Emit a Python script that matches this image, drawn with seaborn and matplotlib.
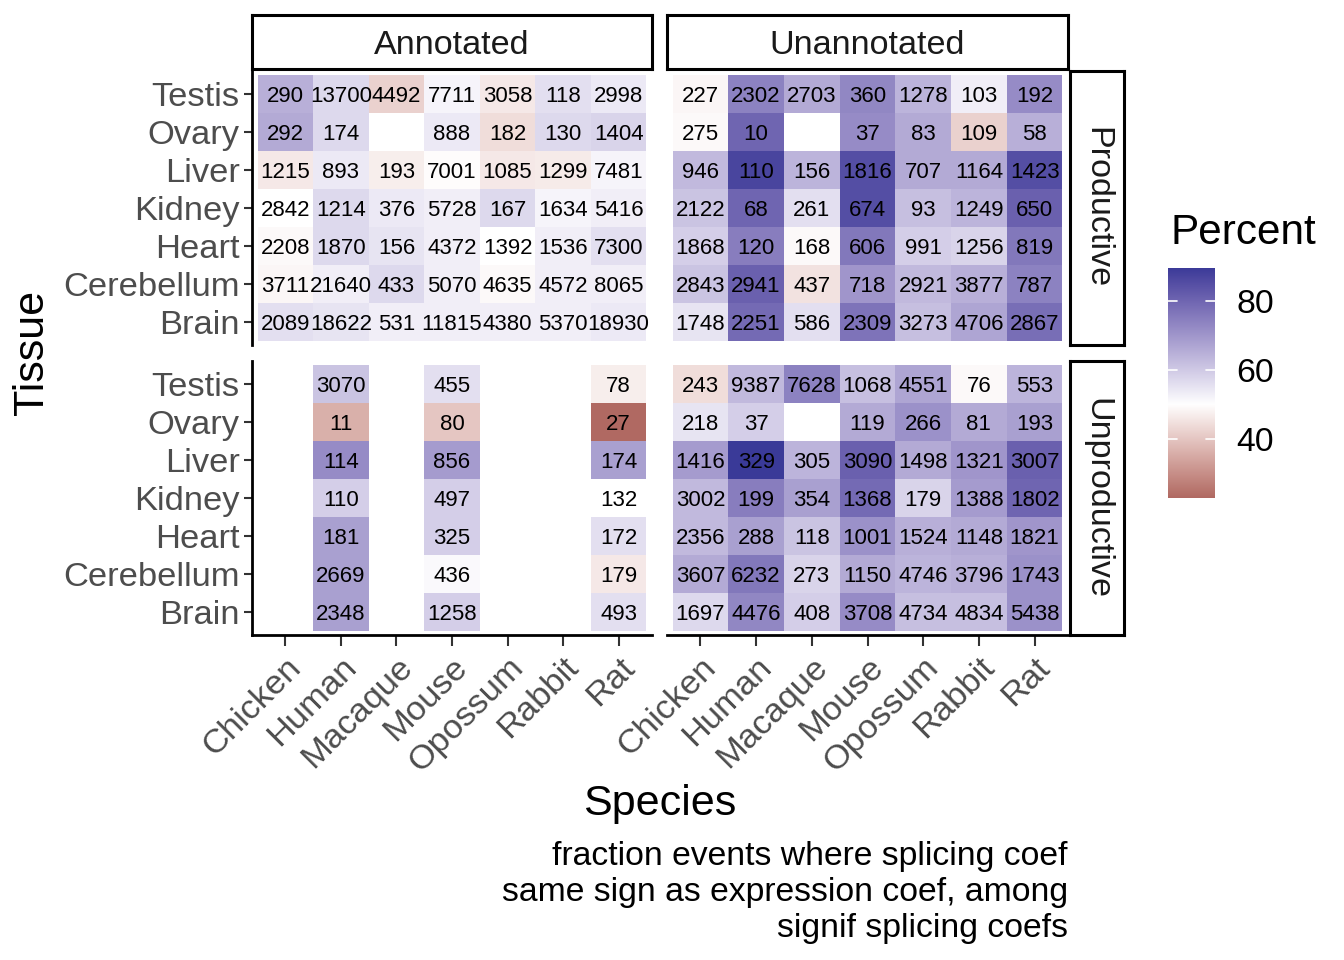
import numpy as np
import pandas as pd
import matplotlib
matplotlib.use("Agg")
import matplotlib.pyplot as plt
from matplotlib.colors import ListedColormap
import seaborn as sns

# ---------------- data ----------------
species = ["Chicken", "Human", "Macaque", "Mouse", "Opossum", "Rabbit", "Rat"]
tissues = ["Testis", "Ovary", "Liver", "Kidney", "Heart", "Cerebellum", "Brain"]
nan = np.nan

ann_prod_pct = [
    [65, 57, 42, 52, 46, 56, 54],
    [66, 57, nan, 54, 44, 57, 58],
    [46, 54, 47, 49.5, 46, 46.5, 52],
    [50, 57, 54, 53, 57, 52, 53],
    [49, 57, 55, 53, 50, 53, 56],
    [48.5, 53, 57, 53, 49, 53, 53],
    [56, 55, 53, 53, 53, 53, 54],
]
ann_prod_n = [
    [290, 13700, 4492, 7711, 3058, 118, 2998],
    [292, 174, nan, 888, 182, 130, 1404],
    [1215, 893, 193, 7001, 1085, 1299, 7481],
    [2842, 1214, 376, 5728, 167, 1634, 5416],
    [2208, 1870, 156, 4372, 1392, 1536, 7300],
    [3711, 21640, 433, 5070, 4635, 4572, 8065],
    [2089, 18622, 531, 11815, 4380, 5370, 18930],
]
unann_prod_pct = [
    [48.5, 74, 66, 73, 64, 53, 72],
    [49, 80, nan, 72, 66, 42, 65],
    [63, 87, 64, 85, 66, 66, 85],
    [61, 80, 56, 85, 62, 64, 81],
    [59, 75, 49, 76, 59, 58, 76],
    [61, 81, 45, 70, 63, 65, 74],
    [55, 79, 56, 77, 62, 67, 78],
]
unann_prod_n = [
    [227, 2302, 2703, 360, 1278, 103, 192],
    [275, 10, nan, 37, 83, 109, 58],
    [946, 110, 156, 1816, 707, 1164, 1423],
    [2122, 68, 261, 674, 93, 1249, 650],
    [1868, 120, 168, 606, 991, 1256, 819],
    [2843, 2941, 437, 718, 2921, 3877, 787],
    [1748, 2251, 586, 2309, 3273, 4706, 2867],
]
ann_unprod_pct = [
    [nan, 61, nan, 56, nan, nan, 47],
    [nan, 36, nan, 40, nan, nan, 23],
    [nan, 72, nan, 69, nan, nan, 68],
    [nan, 59, nan, 59, nan, nan, 50],
    [nan, 68, nan, 59, nan, nan, 56],
    [nan, 68, nan, 51, nan, nan, 46],
    [nan, 68, nan, 59, nan, nan, 56],
]
ann_unprod_n = [
    [nan, 3070, nan, 455, nan, nan, 78],
    [nan, 11, nan, 80, nan, nan, 27],
    [nan, 114, nan, 856, nan, nan, 174],
    [nan, 110, nan, 497, nan, nan, 132],
    [nan, 181, nan, 325, nan, nan, 172],
    [nan, 2669, nan, 436, nan, nan, 179],
    [nan, 2348, nan, 1258, nan, nan, 493],
]
unann_unprod_pct = [
    [44, 63, 74, 62, 67, 49, 64],
    [55, 59, nan, 66, 71, 66, 68],
    [69, 89.6, 64, 81, 66, 70, 81],
    [63, 75, 68, 79, 58, 69, 80],
    [63, 68, 61, 71, 65, 66, 70],
    [66, 76, 58, 66, 64, 65, 71],
    [57, 73, 59, 72, 62, 62, 71],
]
unann_unprod_n = [
    [243, 9387, 7628, 1068, 4551, 76, 553],
    [218, 37, nan, 119, 266, 81, 193],
    [1416, 329, 305, 3090, 1498, 1321, 3007],
    [3002, 199, 354, 1368, 179, 1388, 1802],
    [2356, 288, 118, 1001, 1524, 1148, 1821],
    [3607, 6232, 273, 1150, 4746, 3796, 1743],
    [1697, 4476, 408, 3708, 4734, 4834, 5438],
]
col_facets = ["Annotated", "Unannotated"]
row_facets = ["Productive", "Unproductive"]
legend_breaks = [40, 60, 80]
caption_lines = ["fraction events where splicing coef",
                 "same sign as expression coef, among",
                 "signif splicing coefs"]

# ---------------- colour scale (ggplot gradient2, Lab interpolation) ----------------
_M = np.array([[0.4124, 0.3576, 0.1805], [0.2126, 0.7152, 0.0722], [0.0193, 0.1192, 0.9505]])
_WP = np.array([0.95047, 1.0, 1.08883])

def srgb_to_lab(rgb):
    c = np.asarray(rgb, float)
    lin = np.where(c <= 0.04045, c / 12.92, ((c + 0.055) / 1.055) ** 2.4)
    xyz = lin @ _M.T / _WP
    d = 6 / 29
    f = np.where(xyz > d ** 3, np.cbrt(xyz), xyz / (3 * d * d) + 4 / 29)
    return np.stack([116 * f[..., 1] - 16, 500 * (f[..., 0] - f[..., 1]), 200 * (f[..., 1] - f[..., 2])], -1)

def lab_to_srgb(lab):
    lab = np.asarray(lab, float)
    fy = (lab[..., 0] + 16) / 116
    fx = fy + lab[..., 1] / 500
    fz = fy - lab[..., 2] / 200
    d = 6 / 29
    finv = lambda t: np.where(t > d, t ** 3, 3 * d * d * (t - 4 / 29))
    xyz = np.stack([finv(fx), finv(fy), finv(fz)], -1) * _WP
    lin = np.clip(xyz @ np.linalg.inv(_M).T, 0, 1)
    c = np.where(lin <= 0.0031308, 12.92 * lin, 1.055 * lin ** (1 / 2.4) - 0.055)
    return np.clip(c, 0, 1)

def hex2rgb(h):
    return np.array([int(h[i:i + 2], 16) / 255 for i in (1, 3, 5)])

low_lab = srgb_to_lab(hex2rgb("#832424"))
mid_lab = srgb_to_lab(np.array([1.0, 1.0, 1.0]))
high_lab = srgb_to_lab(hex2rgb("#3A3A98"))
labs = []
for t in np.linspace(0, 1, 512):
    if t < 0.5:
        f = t / 0.5
        labs.append(low_lab * (1 - f) + mid_lab * f)
    else:
        f = (t - 0.5) / 0.5
        labs.append(mid_lab * (1 - f) + high_lab * f)
cmap = ListedColormap(lab_to_srgb(np.array(labs)))

all_pct = np.array(ann_prod_pct + unann_prod_pct + ann_unprod_pct + unann_unprod_pct, float)
dmin, dmax = np.nanmin(all_pct), np.nanmax(all_pct)
midpoint = 50
half = max(dmax - midpoint, midpoint - dmin)
vmin, vmax = midpoint - half, midpoint + half

# ---------------- figure ----------------
sns.set_theme(style="white")
plt.rcParams["font.family"] = ["Liberation Sans", "DejaVu Sans"]
W, H = 1344, 960
fig = plt.figure(figsize=(W / 100, H / 100), dpi=100)

def rect(x0, y0, x1, y1):
    return [x0 / W, 1 - y1 / H, (x1 - x0) / W, (y1 - y0) / H]

colx = [(252, 652), (667, 1068)]
rowy = [(71, 345), (361, 635)]
panels = {
    (0, 0): (ann_prod_pct, ann_prod_n),
    (0, 1): (unann_prod_pct, unann_prod_n),
    (1, 0): (ann_unprod_pct, ann_unprod_n),
    (1, 1): (unann_unprod_pct, unann_unprod_n),
}
grey30 = "#4D4D4D"
TICK_FS = 24.8
for (r, c), (pct, cnt) in panels.items():
    ax = fig.add_axes(rect(colx[c][0], rowy[r][0], colx[c][1], rowy[r][1]))
    df = pd.DataFrame(np.array(pct, float), index=tissues, columns=species)
    cnt_arr = np.array(cnt, float)
    annot = np.vectorize(lambda v: "" if np.isnan(v) else str(int(v)))(cnt_arr)
    sns.heatmap(df, ax=ax, cmap=cmap, vmin=vmin, vmax=vmax, cbar=False,
                annot=annot, fmt="",
                annot_kws={"color": "black", "fontsize": 16, "va": "center_baseline"},
                linewidths=0)
    ax.set_xlim(-0.1, 7.1)
    ax.set_ylim(7.1, -0.1)
    ax.set_facecolor("white")
    ax.set_xlabel("")
    ax.set_ylabel("")
    for s in ax.spines.values():
        s.set_visible(False)
    ax.tick_params(length=0, labelleft=False, labelbottom=False, left=False, bottom=False)
    if c == 0:
        ax.spines["left"].set_visible(True)
        ax.spines["left"].set_color("black")
        ax.spines["left"].set_linewidth(2)
        ax.set_yticks(np.arange(7) + 0.5)
        ax.set_yticklabels(tissues, rotation=0, fontsize=TICK_FS, color=grey30, va="center_baseline")
        ax.tick_params(axis="y", left=True, labelleft=True, length=6, width=1.5, color="#333333", pad=3)
    if r == 1:
        ax.spines["bottom"].set_visible(True)
        ax.spines["bottom"].set_color("black")
        ax.spines["bottom"].set_linewidth(2)
        ax.set_xticks(np.arange(7) + 0.5)
        ax.set_xticklabels(species, rotation=45, ha="right", va="top",
                           rotation_mode="anchor", fontsize=TICK_FS, color=grey30)
        ax.tick_params(axis="x", bottom=True, labelbottom=True, length=8, width=1.5, color="#333333", pad=4)

# strips
for c, name in enumerate(col_facets):
    sax = fig.add_axes(rect(colx[c][0], 15, colx[c][1], 69))
    sax.set_xticks([]); sax.set_yticks([])
    sax.set_facecolor("white")
    for s in sax.spines.values():
        s.set_color("black"); s.set_linewidth(2.2); s.set_visible(True)
    sax.text(0.5, 0.5, name, ha="center", va="center_baseline", fontsize=24.6, color="#1A1A1A",
             transform=sax.transAxes)
for r, name in enumerate(row_facets):
    sax = fig.add_axes(rect(1070, rowy[r][0], 1124, rowy[r][1]))
    sax.set_xticks([]); sax.set_yticks([])
    sax.set_facecolor("white")
    for s in sax.spines.values():
        s.set_color("black"); s.set_linewidth(2.2); s.set_visible(True)
    sax.text(0.5, 0.5, name, ha="center", va="center", rotation=270, fontsize=24.6,
             color="#1A1A1A", transform=sax.transAxes)

# axis titles
fig.text(32 / W, 1 - 352 / H, "Tissue", rotation=90, ha="center", va="center", fontsize=31, color="black")
fig.text(660 / W, 1 - 800 / H, "Species", ha="center", va="center_baseline", fontsize=31, color="black")

# caption
for i, line in enumerate(caption_lines):
    fig.text(1068 / W, 1 - (853 + 36 * i) / H, line, ha="right", va="center_baseline",
             fontsize=24.3, color="black")

# colour bar legend
cax = fig.add_axes(rect(1168, 268, 1215, 498))
vals = np.linspace(dmin, dmax, 300)
cax.imshow(vals[::-1, None], aspect="auto", cmap=cmap, vmin=vmin, vmax=vmax,
           extent=[0, 1, dmin, dmax], interpolation="bilinear")
cax.set_xlim(0, 1); cax.set_ylim(dmin, dmax)
cax.set_xticks([]); cax.set_yticks([])
for s in cax.spines.values():
    s.set_visible(False)
for b in legend_breaks:
    cax.plot([0, 0.2], [b, b], color="white", lw=1.2)
    cax.plot([0.8, 1], [b, b], color="white", lw=1.2)
    cax.text(1.45, b, str(b), transform=cax.get_yaxis_transform(), ha="left", va="center_baseline",
             fontsize=24.3, color="black")
fig.text(1170 / W, 1 - 229 / H, "Percent", ha="left", va="center_baseline", fontsize=30.4, color="black")

fig.savefig("out.png", dpi=100, facecolor="white")
